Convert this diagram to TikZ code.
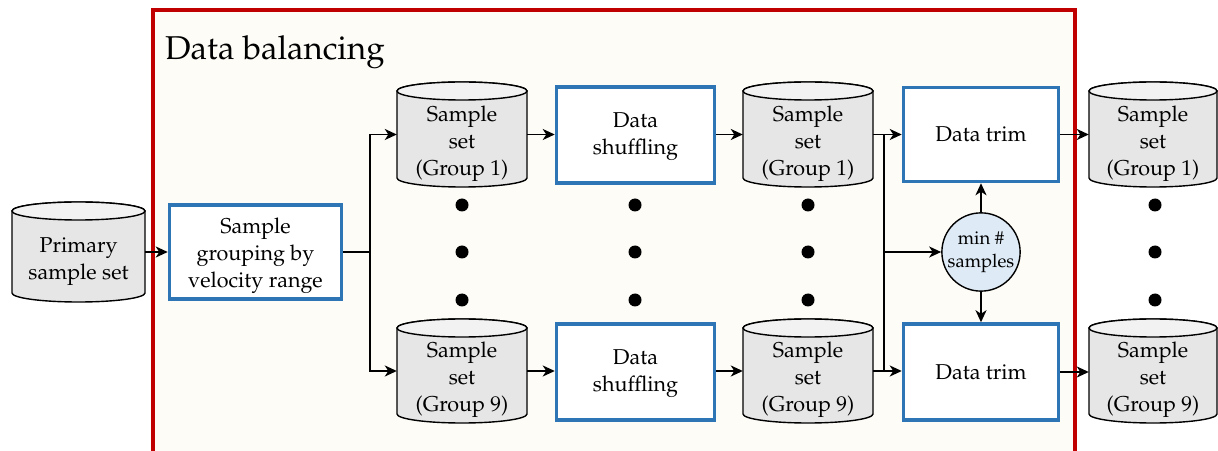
\documentclass[tikz,border=0pt]{standalone}
\usepackage[T1]{fontenc}
\usepackage{mathpazo}
\usetikzlibrary{arrows.meta,backgrounds}
\definecolor{frameRed}{HTML}{C00000}
\definecolor{boxBlue}{HTML}{2E75B6}
\definecolor{cream}{HTML}{FDFCF7}
\definecolor{cylBody}{HTML}{E6E6E6}
\definecolor{cylTop}{HTML}{F2F2F2}
\definecolor{circFill}{HTML}{DEEBF7}
\tikzset{
  bodytext/.style={font=\fontsize{21.5}{27}\selectfont, align=center, text=black},
  procbox/.style={draw=boxBlue, line width=3.5pt, fill=white, bodytext, inner sep=0pt},
  cylholder/.style={inner sep=0pt},
  cyllabel/.style={bodytext},
  cylline/.style={draw=black, line width=1.4pt},
  conn/.style={draw=black, line width=1.8pt},
  arr/.style={conn, -{Stealth[length=12pt,width=11pt,inset=3.5pt]}},
  bigdot/.style={fill=black},
  minnode/.style={circle, draw=black, line width=1.4pt, fill=circFill, minimum size=76pt, inner sep=0pt, align=center, font=\fontsize{18.5}{23.5}\selectfont},
}
% \cylnode{name}{x}{y}{w}{h}{text}{text shift}
\newcommand{\cylnode}[7]{%
  \filldraw[cylline, fill=cylBody] ({#2-#4/2},{#3+#5/2-9}) -- ({#2-#4/2},{#3-#5/2+9})
     arc[start angle=180, end angle=360, x radius={#4/2*1pt}, y radius=9pt]
     -- ({#2+#4/2},{#3+#5/2-9})
     arc[start angle=0, end angle=180, x radius={#4/2*1pt}, y radius=9pt] -- cycle;
  \filldraw[cylline, fill=cylTop] (#2,{#3+#5/2-9}) ellipse[x radius={#4/2*1pt}, y radius=9pt];
  \node[cylholder, minimum width=#4pt, minimum height=#5pt,
        label={[cyllabel, yshift=#7pt]center:{#6}}] (#1) at (#2,#3) {};
}
\begin{document}
\begin{tikzpicture}[x=1pt,y=1pt]
\useasboundingbox (0,0) rectangle (1218,450);
\clip (0,0) rectangle (1218,450);
% frame
\fill[cream] (153,-10) rectangle (1075,440);
\draw[frameRed, line width=4pt] (153,-10) -- (153,440) -- (1075,440) -- (1075,-10);
\node[anchor=base west, font=\fontsize{33}{38}\selectfont, inner sep=0pt] (title) at (165,390) {Data balancing};

% cylinders
\cylnode{prim}{78.5}{198}{133}{100}{Primary\\sample set}{-10}
\cylnode{cA1}{462}{315.5}{130}{105}{Sample\\set\\(Group 1)}{-9}
\cylnode{cA9}{462}{79}{130}{104}{Sample\\set\\(Group 9)}{-9}
\cylnode{cB1}{808}{315.5}{130}{105}{Sample\\set\\(Group 1)}{-9}
\cylnode{cB9}{808}{79}{130}{104}{Sample\\set\\(Group 9)}{-9}
\cylnode{cC1}{1153}{315.5}{128}{105}{Sample\\set\\(Group 1)}{-9}
\cylnode{cC9}{1153}{79}{128}{104}{Sample\\set\\(Group 9)}{-9}

% process boxes
\node[procbox, minimum width=172pt, minimum height=94pt,
      label={[bodytext, yshift=-4pt]center:{Sample\\grouping by\\velocity range}}] (group) at (255.5,198) {};
\node[procbox, minimum width=158pt, minimum height=96pt,
      label={[bodytext, yshift=-2pt]center:{Data\\shuffling}}] (sh1) at (635.5,315) {};
\node[procbox, minimum width=158pt, minimum height=96pt,
      label={[bodytext, yshift=-2pt]center:{Data\\shuffling}}] (sh9) at (635.5,78) {};
\node[procbox, minimum width=155pt, minimum height=94pt] (tr1) at (981,315.5) {Data trim};
\node[procbox, minimum width=155pt, minimum height=96pt] (tr9) at (981,78) {Data trim};
\node[minnode] (minc) at (981,198) {min \#\\samples};

% dots
\foreach \x in {462,635,808,1155}{
  \foreach \y in {245,198,150}{
    \fill[bigdot] (\x,\y) circle[radius=6.5pt];
  }
}

% connectors
\coordinate (b1) at (370,198);
\coordinate (b2) at (884,198);
\draw[arr] (prim.east) -- (group.west);
\draw[conn] (group.east) -- (b1);
\draw[arr] (b1) |- (cA1.west);
\draw[arr] (b1) |- (cA9.west);
\draw[arr] (cA1.east) -- (cA1.east -| sh1.west);
\draw[arr] (cA9.east) -- (cA9.east -| sh9.west);
\draw[arr] (cA1.east -| sh1.east) -- (cB1.west);
\draw[arr] (cA9.east -| sh9.east) -- (cB9.west);
\draw[arr] (cB1.east) -- (cB1.east -| tr1.west);
\draw[arr] (cB9.east) -- (cB9.east -| tr9.west);
\draw[conn] (b2 |- cB1.east) -- (b2 |- cB9.east);
\draw[arr] (b2) -- (minc.west);
\draw[arr] (minc.north) -- (tr1.south);
\draw[arr] (minc.south) -- (tr9.north);
\draw[arr] (tr1.east) -- (tr1.east -| cC1.west);
\draw[arr] (tr9.east) -- (tr9.east -| cC9.west);
\end{tikzpicture}
\end{document}
